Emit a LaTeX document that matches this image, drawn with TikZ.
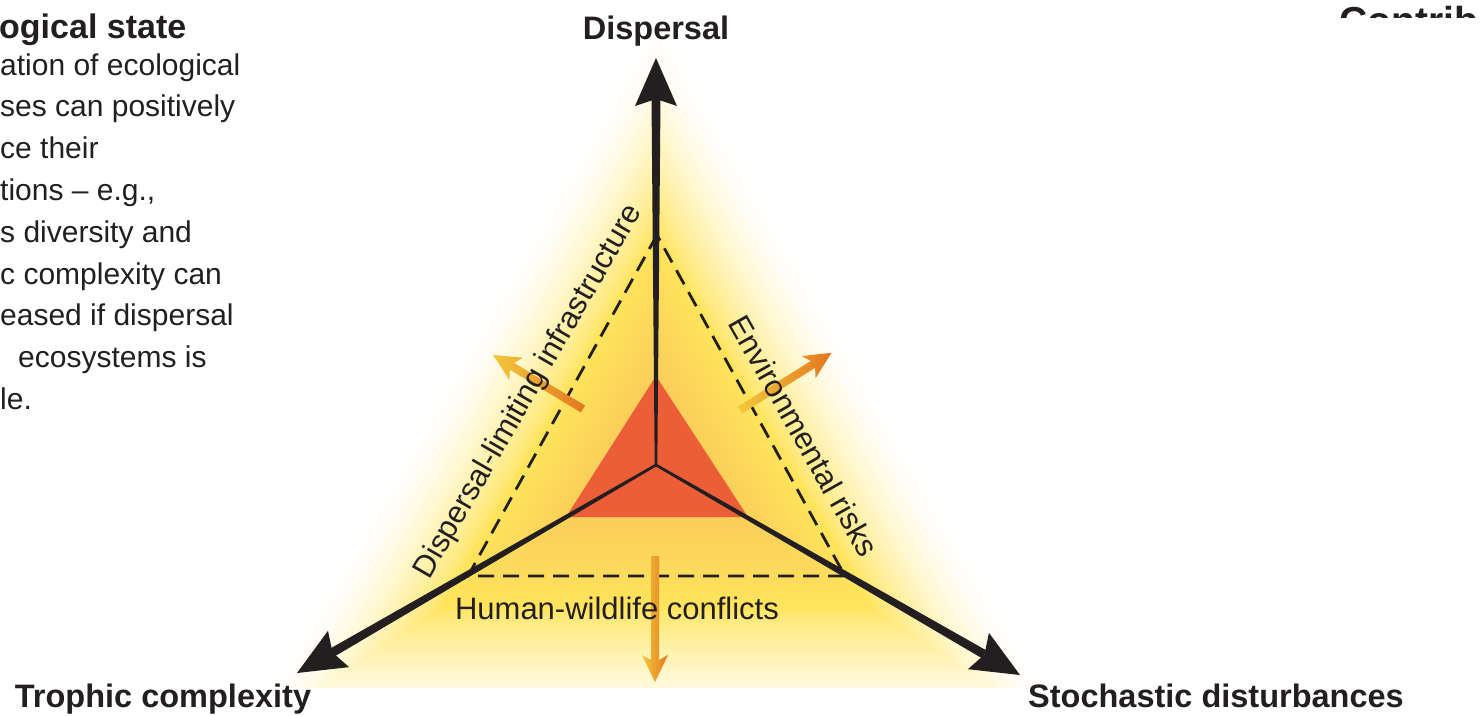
\documentclass[tikz,border=0pt]{standalone}
\usepackage{fontspec}
\setmainfont{Liberation Sans}
\usetikzlibrary{calc,positioning}

\definecolor{inkblack}{HTML}{231F20}
\definecolor{coreorange}{HTML}{EB5E37}
\definecolor{glowyellow}{HTML}{FFE45C}
\definecolor{glowdeep}{HTML}{F8C457}
\definecolor{pushorange}{HTML}{E3761F}
\definecolor{pushyellow}{HTML}{F3C93C}

\begin{document}
\begin{tikzpicture}[
    x=1pt, y=-1pt,
    axislabel/.style={inner sep=0pt, font=\fontsize{32.5}{36}\selectfont\bfseries, text=inkblack},
    headlabel/.style={inner sep=0pt, anchor=base west, font=\fontsize{34}{38}\selectfont\bfseries, text=inkblack},
    bodytext/.style={inner sep=0pt, anchor=base west, font=\fontsize{30}{40}\selectfont, text=inkblack},
    edgelabel/.style={inner sep=0pt, font=\fontsize{31}{36}\selectfont, text=inkblack},
    dashedge/.style={inkblack, line width=2.8pt, dash pattern=on 16pt off 9pt},
    pusharrow/.style={left color=pushyellow, right color=pushorange}
]

% page frame
\useasboundingbox (0,0) rectangle (1483,715);

% axis centre and tips
\coordinate (ctr) at (656,465);
\coordinate (tipD) at (656,58);
\coordinate (tipT) at (297,673);
\coordinate (tipS) at (1020,675);

% yellow glow
\coordinate (ga) at (657,12);
\coordinate (gb) at (235,745);
\coordinate (gd) at (1080,745);
\begin{scope}
  \clip (0,0) rectangle (1483,687);
  \foreach \s [evaluate=\s as \p using {100*pow(max(0.0001,min(1,(1-\s)*2)),1.6)}] in {1.00,0.98,...,0.30}
    \fill[glowyellow!\p!white] ($(ctr)!\s!(ga)$) -- ($(ctr)!\s!(gb)$) -- ($(ctr)!\s!(gd)$) -- cycle;
  \foreach \s [evaluate=\s as \q using {max(0,min(100,(0.52-\s)*220))}] in {0.52,0.50,...,0.18}
    \fill[glowdeep!\q!glowyellow] ($(ctr)!\s!(ga)$) -- ($(ctr)!\s!(gb)$) -- ($(ctr)!\s!(gd)$) -- cycle;
\end{scope}

% core triangle
\coordinate (oA) at (656,376);
\coordinate (oB) at (566,517);
\coordinate (oC) at (748,517);
\fill[coreorange] (oA) -- (oB) -- (oC) -- cycle;

% dashed triangle
\coordinate (dA) at (657,235);
\coordinate (dB) at (468,576);
\coordinate (dC) at (845,576);
\draw[dashedge] (dA) -- (dB) -- (dC) -- cycle;

% pressure arrows
\coordinate (pushI) at (583,409);
\coordinate (pushE) at (740,410);
\coordinate (pushH) at (655,556);
\foreach \p/\a/\l in {pushI/149/105, pushE/32/108, pushH/-90/126} {
  \begin{scope}[shift={(\p)}, rotate=\a]
    \shade[pusharrow] (0,-4) -- (\l-22,-4) -- (\l-27,-13) -- (\l,0)
      -- (\l-27,13) -- (\l-22,4) -- (0,4) -- cycle;
  \end{scope}
}

% axes
\foreach \t in {tipD,tipT,tipS} {
  \coordinate (hb) at ($(\t)!48pt!(ctr)$);
  \coordinate (hi) at ($(\t)!41pt!(ctr)$);
  \fill[inkblack] ($(ctr)!1.3pt!90:(\t)$) -- ($(hi)!4.5pt!90:(\t)$)
    -- ($(hi)!4.5pt!-90:(\t)$) -- ($(ctr)!1.3pt!-90:(\t)$) -- cycle;
  \fill[inkblack] (\t) -- ($(hb)!21pt!90:(\t)$) -- (hi) -- ($(hb)!21pt!-90:(\t)$) -- cycle;
}

% labels
\node[axislabel, above=12pt of tipD] (lbldisp) {Dispersal};
\node[axislabel, anchor=base] (lbltroph) at (163,707) {Trophic complexity};
\node[axislabel, anchor=base] (lblstoch) at (1216,707) {Stochastic disturbances};
\node[edgelabel, rotate=60] (lblinfra) at (529,392) {Dispersal-limiting infrastructure};
\node[edgelabel, rotate=-60.5] (lblenv) at (804,436) {Environmental risks};
\node[edgelabel, anchor=base] (lblhuman) at (617,619) {Human-wildlife conflicts};

% cut-off side texts
\node[headlabel] (lbltitle) at (-1,38) {ogical state};
\foreach \ln [count=\i] in {ation of ecological, ses can positively, ce their,
    {tions – e.g.,}, s diversity and, c complexity can, eased if dispersal,
    \hspace{18pt}ecosystems is, le.}
  \node[bodytext] (body\i) at (0,{75+41.8*(\i-1)}) {\ln};
\begin{scope}
  \clip (1300,0) rectangle (1483,17);
  \node[headlabel, font=\fontsize{39}{42}\selectfont\bfseries] (lblcontrib) at (1339,34) {Contrib};
\end{scope}

\end{tikzpicture}
\end{document}
